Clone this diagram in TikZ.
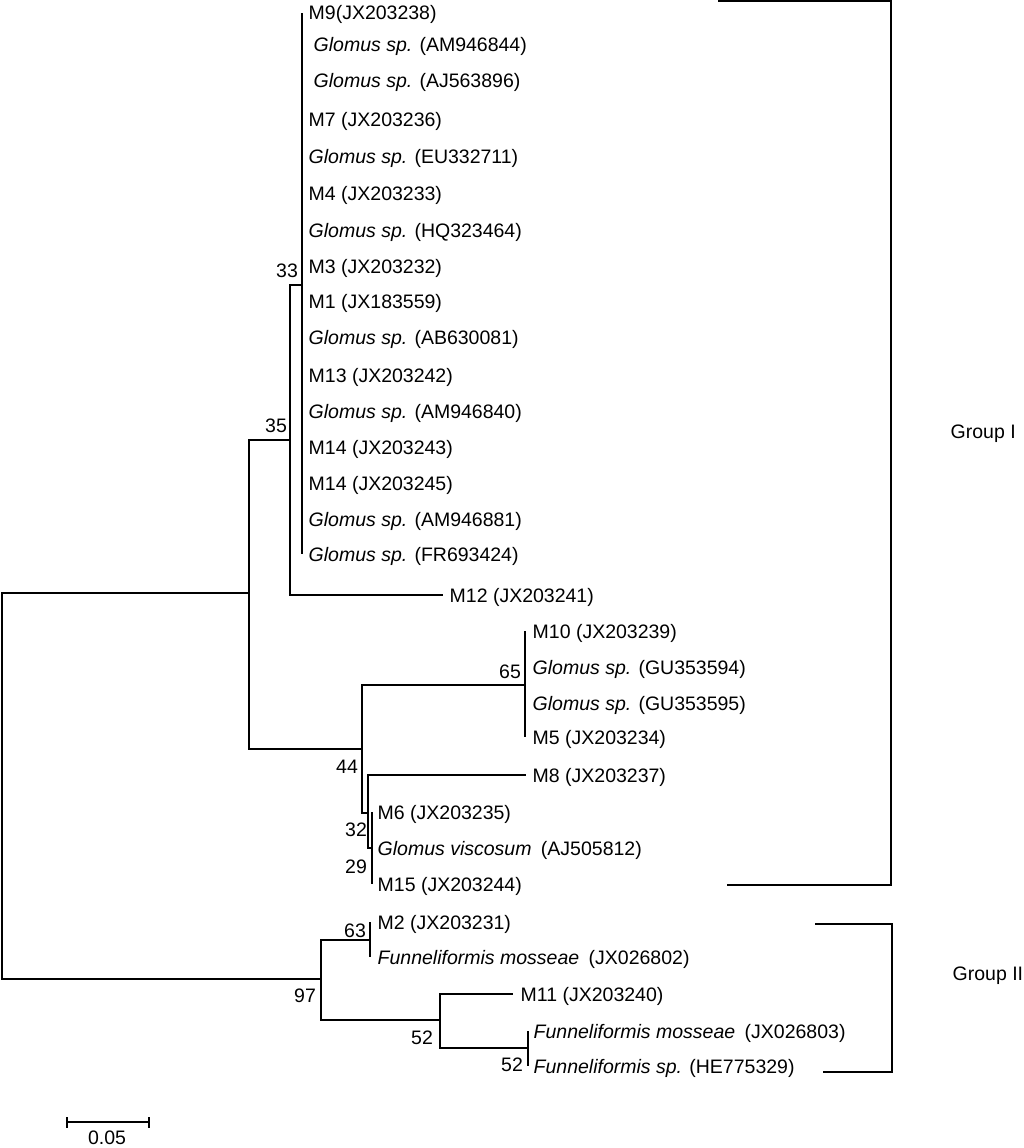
\documentclass[tikz,border=0pt]{standalone}
\usepackage{fontspec}
\setmainfont{Liberation Sans}
\begin{document}
\begin{tikzpicture}[x=1pt,y=-1pt,line width=1.4pt,
  lbl/.style={font=\fontsize{19.5}{22}\selectfont},
  leaf/.style={lbl,anchor=west,inner xsep=6pt,inner ysep=0pt,text height=14pt,text depth=0pt},
  ind/.style={inner xsep=11pt},
  boot/.style={lbl,inner sep=0pt,text height=14pt,text depth=0pt},
  edge/.style={draw,line width=1.4pt},
  bracket/.style={draw,line width=1.4pt}]
\useasboundingbox (0,0) rectangle (1024,1148);
% internal nodes
\coordinate (root) at (2,786);
\coordinate (n35) at (249,593);
\coordinate (n33p) at (290,440);
\coordinate (n33) at (302,285);
\coordinate (n44) at (362,749);
\coordinate (n65) at (525,685);
\coordinate (nm8) at (368,813);
\coordinate (n29) at (372,848);
\coordinate (n97) at (321,979);
\coordinate (n63) at (370,940);
\coordinate (n52a) at (440,1020);
\coordinate (n52b) at (528,1048);
% leaves
\node[leaf] (a1) at (302,13) {M9(JX203238)};
\node[leaf,ind] (a2) at (302,45) {\textit{Glomus sp.} (AM946844)};
\node[leaf,ind] (a3) at (302,80) {\textit{Glomus sp.} (AJ563896)};
\node[leaf] (a4) at (302,119) {M7 (JX203236)};
\node[leaf] (a5) at (302,156) {\textit{Glomus sp.} (EU332711)};
\node[leaf] (a6) at (302,193) {M4 (JX203233)};
\node[leaf] (a7) at (302,230) {\textit{Glomus sp.} (HQ323464)};
\node[leaf] (a8) at (302,266) {M3 (JX203232)};
\node[leaf] (a9) at (302,301) {M1 (JX183559)};
\node[leaf] (a10) at (302,337) {\textit{Glomus sp.} (AB630081)};
\node[leaf] (a11) at (302,375) {M13 (JX203242)};
\node[leaf] (a12) at (302,411) {\textit{Glomus sp.} (AM946840)};
\node[leaf] (a13) at (302,447) {M14 (JX203243)};
\node[leaf] (a14) at (302,483) {M14 (JX203245)};
\node[leaf] (a15) at (302,519) {\textit{Glomus sp.} (AM946881)};
\node[leaf] (a16) at (302,554) {\textit{Glomus sp.} (FR693424)};
\node[leaf] (a17) at (443,595) {M12 (JX203241)};
\node[leaf,inner xsep=7pt] (b1) at (525,631) {M10 (JX203239)};
\node[leaf,inner xsep=7pt] (b2) at (525,667) {\textit{Glomus sp.} (GU353594)};
\node[leaf,inner xsep=7pt] (b3) at (525,703) {\textit{Glomus sp.} (GU353595)};
\node[leaf,inner xsep=7pt] (b4) at (525,737) {M5 (JX203234)};
\node[leaf] (b5) at (526,775) {M8 (JX203237)};
\node[leaf,inner xsep=5pt] (c1) at (372,812) {M6 (JX203235)};
\node[leaf,inner xsep=5pt] (c2) at (372,848) {\textit{Glomus viscosum}\hspace{4pt} (AJ505812)};
\node[leaf,inner xsep=5pt] (c3) at (372,884) {M15 (JX203244)};
\node[leaf,inner xsep=7pt] (d1) at (370,922) {M2 (JX203231)};
\node[leaf,inner xsep=7pt] (d2) at (370,957) {\textit{Funneliformis mosseae}\hspace{4pt} (JX026802)};
\node[leaf,inner xsep=7pt] (d3) at (513,994) {M11 (JX203240)};
\node[leaf,inner xsep=5pt] (d4) at (528,1031) {\textit{Funneliformis mosseae}\hspace{4pt} (JX026803)};
\node[leaf,inner xsep=5pt] (d5) at (528,1066) {\textit{Funneliformis sp.} (HE775329)};
% edges
\path[edge] (root) |- (n35);
\path[edge] (root) |- (n97);
\path[edge] (n35) |- (n33p);
\path[edge] (n35) |- (n44);
\path[edge] (n33p) |- (n33);
\path[edge] (n33p) |- (a17.west);
\foreach \i in {1,...,16} {\path[edge] (n33) |- (a\i.west);}
\path[edge] (n44) |- (n65);
\path[edge] (n44) |- (nm8);
\foreach \i in {1,...,4} {\path[edge] (n65) |- (b\i.west);}
\path[edge] (nm8) |- (b5.west);
\path[edge] (nm8) |- (n29);
\foreach \i in {1,...,3} {\path[edge] (n29) |- (c\i.west);}
\path[edge] (n97) |- (n63);
\path[edge] (n97) |- (n52a);
\path[edge] (n63) |- (d1.west);
\path[edge] (n63) |- (d2.west);
\path[edge] (n52a) |- (d3.west);
\path[edge] (n52a) |- (n52b);
\path[edge] (n52b) |- (d4.west);
\path[edge] (n52b) |- (d5.west);
% bootstrap values
\node[boot] (s33) at (287,270) {33};
\node[boot] (s35) at (276,425) {35};
\node[boot] (s65) at (510,671) {65};
\node[boot] (s44) at (347,766) {44};
\node[boot] (s32) at (356,829) {32};
\node[boot] (s29) at (356,866) {29};
\node[boot] (s63) at (355,930) {63};
\node[boot] (s97) at (305,995) {97};
\node[boot] (s52a) at (422,1037) {52};
\node[boot] (s52b) at (512,1064) {52};
% group brackets
\coordinate (g1a) at (718,1);
\coordinate (g1b) at (891,1);
\coordinate (g1c) at (891,885);
\coordinate (g1d) at (727,885);
\path[bracket] (g1a) -- (g1b) -- (g1c) -- (g1d);
\node[lbl,anchor=west,inner sep=0pt] (gI) at (950,434) {Group I};
\coordinate (g2a) at (815,924);
\coordinate (g2b) at (892,924);
\coordinate (g2c) at (892,1072);
\coordinate (g2d) at (823,1072);
\path[bracket] (g2a) -- (g2b) -- (g2c) -- (g2d);
\node[lbl,anchor=west,inner sep=0pt] (gII) at (952,976) {Group II};
% scale bar
\coordinate (sb1) at (67,1122);
\coordinate (sb2) at (149,1122);
\path[edge] (sb1) -- (sb2);
\path[edge] ([yshift=5pt]sb1) -- ([yshift=-6pt]sb1);
\path[edge] ([yshift=5pt]sb2) -- ([yshift=-6pt]sb2);
\node[boot] (sbl) at (107,1137) {0.05};
\end{tikzpicture}
\end{document}
